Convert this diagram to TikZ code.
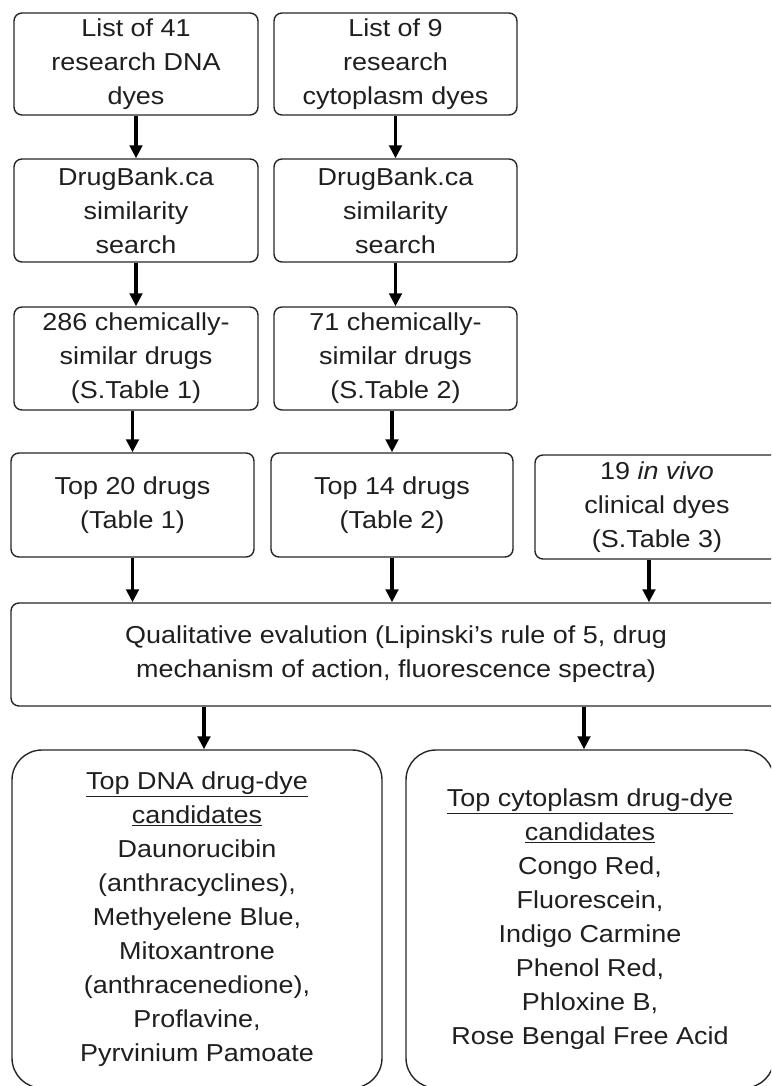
\documentclass[tikz,border=0pt]{standalone}
\usepackage{fontspec}
\setmainfont{Liberation Sans}[FakeStretch=1.1]
\usetikzlibrary{arrows.meta}
\tikzset{
  box/.style={draw=black!85, line width=1.4pt, rounded corners=8pt, align=center,
    inner sep=0pt, text=black!88, font=\fontsize{24.5}{34}\selectfont},
  bigbox/.style={box, rounded corners=30pt},
  arr/.style={-{Triangle[length=13pt,width=12.5pt]}, line width=3.4pt, draw=black}
}
\begin{document}
\begin{tikzpicture}[x=1pt,y=-1pt]
\path[use as bounding box] (0,0) rectangle (771,1086);
\clip (0,0) rectangle (771,1086);
% row 1
\node[box, minimum width=244pt, minimum height=102pt] (a1) at (136,64) {List of 41\\research DNA\\dyes};
\node[box, minimum width=243pt, minimum height=102pt] (b1) at (395.5,64) {List of 9\\research\\cytoplasm dyes};
% row 2
\node[box, minimum width=244pt, minimum height=103pt] (a2) at (136,210.5) {DrugBank.ca\\similarity\\search};
\node[box, minimum width=243pt, minimum height=103pt] (b2) at (395.5,210.5) {DrugBank.ca\\similarity\\search};
% row 3
\node[box, minimum width=244pt, minimum height=103pt] (a3) at (136,358.5) {286 chemically-\\similar drugs\\(S.Table 1)};
\node[box, minimum width=243pt, minimum height=103pt] (b3) at (395.5,358.5) {71 chemically-\\similar drugs\\(S.Table 2)};
% row 4
\node[box, minimum width=243pt, minimum height=104pt] (a4) at (132.5,505) {Top 20 drugs\\(Table 1)};
\node[box, minimum width=242pt, minimum height=104pt] (b4) at (392,505) {Top 14 drugs\\(Table 2)};
\node[box, minimum width=244pt, minimum height=104pt] (c4) at (657,507) {19 \textit{in vivo}\\clinical dyes\\(S.Table 3)};
% row 5
\node[box, minimum width=770pt, minimum height=103pt] (q) at (396,654.5) {Qualitative evalution (Lipinski's rule of 5, drug\\mechanism of action, fluorescence spectra)};
% row 6
\node[bigbox, minimum width=370pt, minimum height=338pt] (d) at (197,919) {\underline{Top DNA drug-dye}\\\underline{candidates}\\Daunorucibin\\(anthracyclines),\\Methyelene Blue,\\Mitoxantrone\\(anthracenedione),\\Proflavine,\\Pyrvinium Pamoate};
\node[bigbox, minimum width=368pt, minimum height=338pt] (e) at (590,919) {\underline{Top cytoplasm drug-dye}\\\underline{candidates}\\Congo Red,\\Fluorescein,\\Indigo Carmine\\Phenol Red,\\Phloxine B,\\Rose Bengal Free Acid};
% arrows
\draw[arr] (a1.south) -- (a2.north);
\draw[arr] (b1.south) -- (b2.north);
\draw[arr] (a2.south) -- (a3.north);
\draw[arr] (b2.south) -- (b3.north);
\draw[arr] (a3.south -| a4.north) -- (a4.north);
\draw[arr] (b3.south -| b4.north) -- (b4.north);
\draw[arr] (a4.south) -- (a4.south |- q.north);
\draw[arr] (b4.south) -- (b4.south |- q.north);
\draw[arr] ([xshift=-8pt]c4.south) -- ([xshift=-8pt]c4.south |- q.north);
\draw[arr] ([xshift=7pt]d.north |- q.south) -- ([xshift=7pt]d.north);
\draw[arr] ([xshift=-6pt]e.north |- q.south) -- ([xshift=-6pt]e.north);
\end{tikzpicture}
\end{document}
